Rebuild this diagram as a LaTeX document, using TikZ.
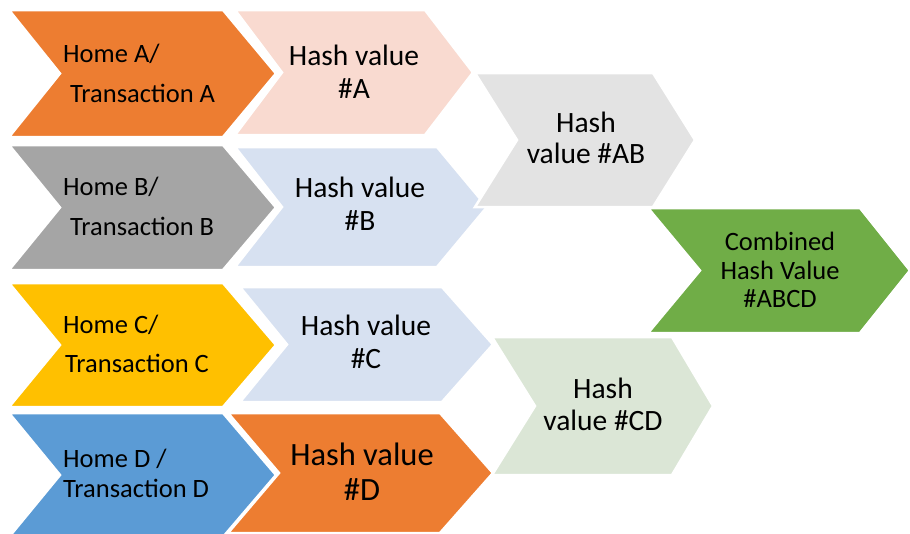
\documentclass[tikz,border=0pt]{standalone}
\usepackage{fontspec}
\setmainfont{Carlito}
\definecolor{cOrange}{HTML}{ED7D31}
\definecolor{cGray}{HTML}{A5A5A5}
\definecolor{cYellow}{HTML}{FFC000}
\definecolor{cBlue}{HTML}{5B9BD5}
\definecolor{cPink}{HTML}{F9DAD0}
\definecolor{cLBlue}{HTML}{D7E1F1}
\definecolor{cLGray}{HTML}{E3E3E3}
\definecolor{cGreen}{HTML}{70AD47}
\definecolor{cLGreen}{HTML}{DBE6D6}
\tikzset{
  chev/.style={draw=white, line width=2.5pt, line join=miter},
  lbl/.style={anchor=base west, inner sep=0pt, text=black},
  clbl/.style={anchor=base, inner sep=0pt, text=black},
}
% #1 color, #2 left, #3 notch, #4 right, #5 tip, #6 top, #7 bottom
\newcommand\chevshape[7]{%
  \path[chev, fill=#1] (#2,#6) -- (#4,#6) -- (#5,{(#6+#7)/2}) -- (#4,#7) -- (#2,#7) -- (#3,{(#6+#7)/2}) -- cycle;}
\begin{document}
\begin{tikzpicture}[x=1pt,y=-1pt]
\useasboundingbox (0,0) rectangle (910,533);
\fill[white] (0,0) rectangle (910,533);
\clip (0,0) rectangle (910,533);
% column 1
\chevshape{cOrange}{9}{60}{223}{276}{10}{137}
\chevshape{cGray}{9}{60}{223}{276}{145}{270}
\chevshape{cYellow}{9}{60}{223}{276}{283}{407}
\chevshape{cBlue}{9}{60}{223}{276}{413}{537}
% column 2
\chevshape{cPink}{235}{282}{425}{473}{10}{135}
\chevshape{cLBlue}{235}{282}{437}{487}{147}{267}
\chevshape{cLBlue}{240}{287}{442}{493}{287}{402}
\chevshape{cOrange}{228}{279}{440}{493}{413}{533}
% column 3
\chevshape{cLGray}{475}{517}{653}{695}{73}{207}
\chevshape{cLGreen}{492}{535}{672}{713}{337}{475}
% column 4
\chevshape{cGreen}{648}{700}{860}{910}{208}{333}
% texts
\begin{scope}[every node/.append style={font=\fontsize{26.5}{30}\selectfont}]
\node[lbl] (ha1) at (63,62) {Home A/};
\node[lbl] (ha2) at (70,102) {Transaction A};
\node[lbl] (hb1) at (63,195) {Home B/};
\node[lbl] (hb2) at (70,235) {Transaction B};
\node[lbl] (hc1) at (63,333) {Home C/};
\node[lbl] (hc2) at (65,372) {Transaction C};
\node[lbl] (hd1) at (63,467) {Home D /};
\node[lbl] (hd2) at (63,497) {Transaction D};
\end{scope}
\begin{scope}[every node/.append style={font=\fontsize{29.5}{32}\selectfont}]
\node[clbl] (va1) at (354,65) {Hash value};
\node[clbl] (va2) at (354,98) {\#A};
\node[clbl] (vb1) at (360,197) {Hash value};
\node[clbl] (vb2) at (360,230) {\#B};
\node[clbl] (vc1) at (366,335) {Hash value};
\node[clbl] (vc2) at (366,368) {\#C};
\node[clbl] (vab1) at (586,132) {Hash};
\node[clbl] (vab2) at (586,163) {value \#AB};
\node[clbl] (vcd1) at (603,398) {Hash};
\node[clbl] (vcd2) at (603,430) {value \#CD};
\end{scope}
\begin{scope}[every node/.append style={font=\fontsize{32.5}{36}\selectfont}]
\node[clbl] (vd1) at (362,465) {Hash value};
\node[clbl] (vd2) at (362,500) {\#D};
\end{scope}
\begin{scope}[every node/.append style={font=\fontsize{26.5}{30}\selectfont}]
\node[clbl] (cm1) at (780,250) {Combined};
\node[clbl] (cm2) at (780,279) {Hash Value};
\node[clbl] (cm3) at (780,307) {\#ABCD};
\end{scope}
\end{tikzpicture}
\end{document}
